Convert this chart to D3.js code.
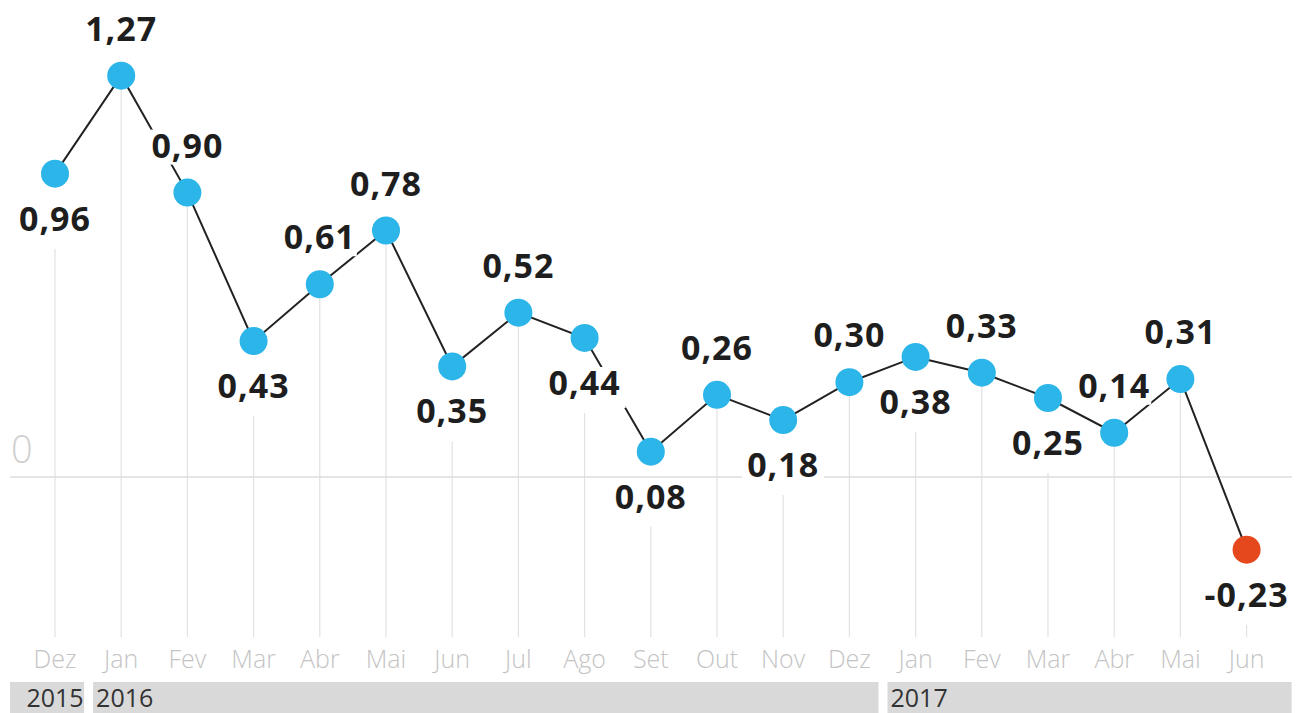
<!DOCTYPE html>
<html>
<head>
<meta charset="utf-8">
<script src="https://cdn.jsdelivr.net/npm/d3@7"></script>
<style>
  body { margin: 0; background: #fff; }
  svg { display: block; font-family: "Open Sans", sans-serif; }
</style>
</head>
<body>
<svg id="chart" width="1306" height="713"></svg>
<script>
// monthly values (%), Dez 2015 -> Jun 2017
const months = ['Dez','Jan','Fev','Mar','Abr','Mai','Jun','Jul','Ago','Set','Out','Nov','Dez','Jan','Fev','Mar','Abr','Mai','Jun'];
const values = [0.96, 1.27, 0.90, 0.43, 0.61, 0.78, 0.35, 0.52, 0.44, 0.08, 0.26, 0.18, 0.30, 0.38, 0.33, 0.25, 0.14, 0.31, -0.23];
const labelSide = ['below','above','above','below','above','above','below','above','below','below','above','below','above','below','above','below','above','above','below'];
const years = ['2015', '2016', '2017'];
const yearMonths = [1, 12, 6]; // how many months fall in each year

function makeChart(){
    const svg = d3.select('#chart');

    const x = d3.scalePoint()
        .domain(d3.range(values.length))
        .range([55, 1246.6]);
    const step = x.step();

    const y = d3.scaleLinear()
        .domain([-0.5, 1.5])
        .range([635, 3]);

    const fmt = v => d3.format('.2f')(v).replace('.', ',').replace('−', '-');
    const baseline = (v, i) => labelSide[i] === 'above' ? y(v) - 35 : y(v) + 57;

    // vertical grid lines, from the point (or below the label) down
    svg.append('g')
        .selectAll('line')
        .data(values)
        .join('line')
            .attr('x1', (d, i) => x(i))
            .attr('x2', (d, i) => x(i))
            .attr('y1', (d, i) => labelSide[i] === 'above' ? y(d) : baseline(d, i) + 18)
            .attr('y2', 637)
            .attr('stroke', '#e2e2e2')
            .attr('stroke-width', 1.2);

    // zero line + label
    svg.append('line')
        .attr('x1', 10).attr('x2', 1292)
        .attr('y1', y(0)).attr('y2', y(0))
        .attr('stroke', '#dcdcdc')
        .attr('stroke-width', 1.5);

    svg.append('text')
        .attr('x', 11)
        .attr('y', y(0) - 14)
        .style('font-size', '38px')
        .style('font-weight', 300)
        .style('fill', '#cfcfcf')
        .text('0');

    // the line
    const line = d3.line()
        .x((d, i) => x(i))
        .y(d => y(d));

    svg.append('path')
        .datum(values)
        .attr('d', line)
        .attr('fill', 'none')
        .attr('stroke', '#222')
        .attr('stroke-width', 2);

    // value labels with a white box behind
    const labels = svg.append('g');
    values.forEach((v, i) => {
        const g = labels.append('g');
        const by = baseline(v, i);
        const t = g.append('text')
            .attr('x', x(i))
            .attr('y', by)
            .attr('text-anchor', 'middle')
            .style('font-size', '34px')
            .style('font-weight', 700)
            .style('letter-spacing', '1px')
            .style('fill', '#1e1e1e')
            .text(fmt(v));
        const b = t.node().getBBox();
        const above = labelSide[i] === 'above';
        const padX = above ? 1 : 5;
        const bottom = above ? by + 7 : by + 13;
        g.insert('rect', 'text')
            .attr('x', b.x - padX)
            .attr('y', by - 28)
            .attr('width', b.width + padX * 2)
            .attr('height', bottom - (by - 28))
            .attr('fill', '#fff');
    });

    // points
    svg.append('g')
        .selectAll('circle')
        .data(values)
        .join('circle')
            .attr('cx', (d, i) => x(i))
            .attr('cy', d => y(d))
            .attr('r', 14)
            .attr('fill', d => d < 0 ? '#e5481c' : '#2bb5e8');

    // month labels
    svg.append('g')
        .selectAll('text')
        .data(months)
        .join('text')
            .attr('x', (d, i) => x(i))
            .attr('y', 668)
            .attr('text-anchor', 'middle')
            .style('font-size', '25px')
            .style('font-weight', 300)
            .style('fill', '#c4c4c4')
            .text(d => d);

    // year bars
    let first = 0;
    const yearData = years.map((yr, k) => {
        const last = first + yearMonths[k] - 1;
        const x0 = k === 0 ? x(first) - 45 : x(first) - step / 2 + 5;
        const x1 = k === years.length - 1 ? x(last) + 45 : x(last) + step / 2 - 4;
        const d = {yr, first, last, x0, x1};
        first = last + 1;
        return d;
    });

    const yg = svg.append('g');
    yg.selectAll('rect')
        .data(yearData)
        .join('rect')
            .attr('x', d => d.x0)
            .attr('y', 682)
            .attr('width', d => d.x1 - d.x0)
            .attr('height', 31)
            .attr('fill', '#d9d9d9');

    yg.selectAll('text')
        .data(yearData)
        .join('text')
            .attr('x', d => d.first === d.last ? x(d.first) : d.x0 + 3)
            .attr('y', 707)
            .attr('text-anchor', d => d.first === d.last ? 'middle' : 'start')
            .style('font-size', '25px')
            .style('fill', '#333')
            .text(d => d.yr);

    return svg.node();
}

makeChart();
</script>
</body>
</html>
